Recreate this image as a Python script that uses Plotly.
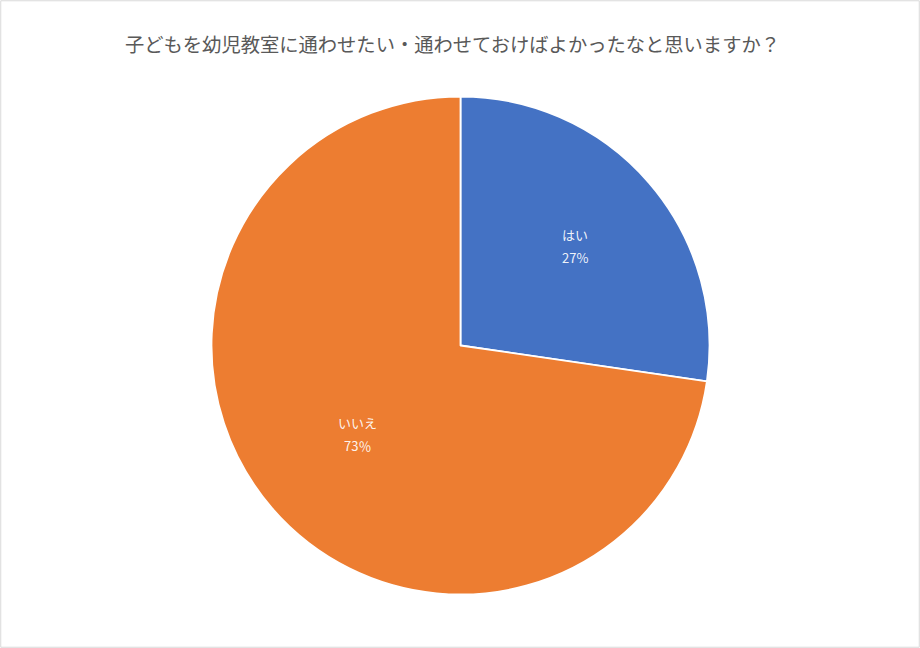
import math
import plotly.graph_objects as go

title_text = "子どもを幼児教室に通わせたい・通わせておけばよかったなと思いますか？"
labels = ["はい", "いいえ"]
values = [27.3, 72.7]
pct_suffix = ["%", "％"]
colors = ["#4472C4", "#ED7D31"]

W, H = 920, 648
CX, CY, R = 460.5, 345.5, 249      # pie centre and radius in pixels
label_r = [0.61, 0.545]            # label distance from centre (fraction of radius)

fig = go.Figure(go.Pie(
    labels=labels,
    values=values,
    textinfo="none",
    marker=dict(colors=colors, line=dict(color="white", width=1.8)),
    sort=False,
    direction="clockwise",
    rotation=0,
    domain=dict(x=[(CX - R) / W, (CX + R) / W], y=[(H - CY - R) / H, (H - CY + R) / H]),
    hoverinfo="label+percent",
))

annotations = [dict(
    text=title_text, x=452.5 / W, y=1 - 44 / H, xref="paper", yref="paper",
    xanchor="center", yanchor="middle", showarrow=False,
    font=dict(family="Noto Sans CJK JP", size=19.3, color="#595959"),
)]

total = sum(values)
cum = 0
lab_font = dict(family="Noto Sans CJK JP", size=13, color="rgba(255,255,255,0.93)")
for i, (lab, v) in enumerate(zip(labels, values)):
    mid = (cum + v / 2) / total * 2 * math.pi
    cum += v
    px = CX + label_r[i] * R * math.sin(mid)
    py = CY - label_r[i] * R * math.cos(mid)
    pct = round(v / total * 100)
    for txt, shift in ((lab, 11.5), (f"{pct}{pct_suffix[i]}", -11.5)):
        annotations.append(dict(
            text=txt, x=px / W, y=1 - py / H, xref="paper", yref="paper",
            xanchor="center", yanchor="middle", yshift=shift, showarrow=False,
            font=lab_font,
        ))

fig.update_layout(
    width=W, height=H,
    margin=dict(l=0, r=0, t=0, b=0),
    paper_bgcolor="white",
    showlegend=False,
    annotations=annotations,
    shapes=[dict(type="rect", xref="paper", yref="paper", x0=0.0008, x1=0.9992,
                 y0=0.0012, y1=0.9988, line=dict(color="#D9D9D9", width=1))],
)

fig.write_html("out.html", config={"displayModeBar": False},
               post_script="document.body.style.margin='0';document.body.style.overflow='hidden';")
